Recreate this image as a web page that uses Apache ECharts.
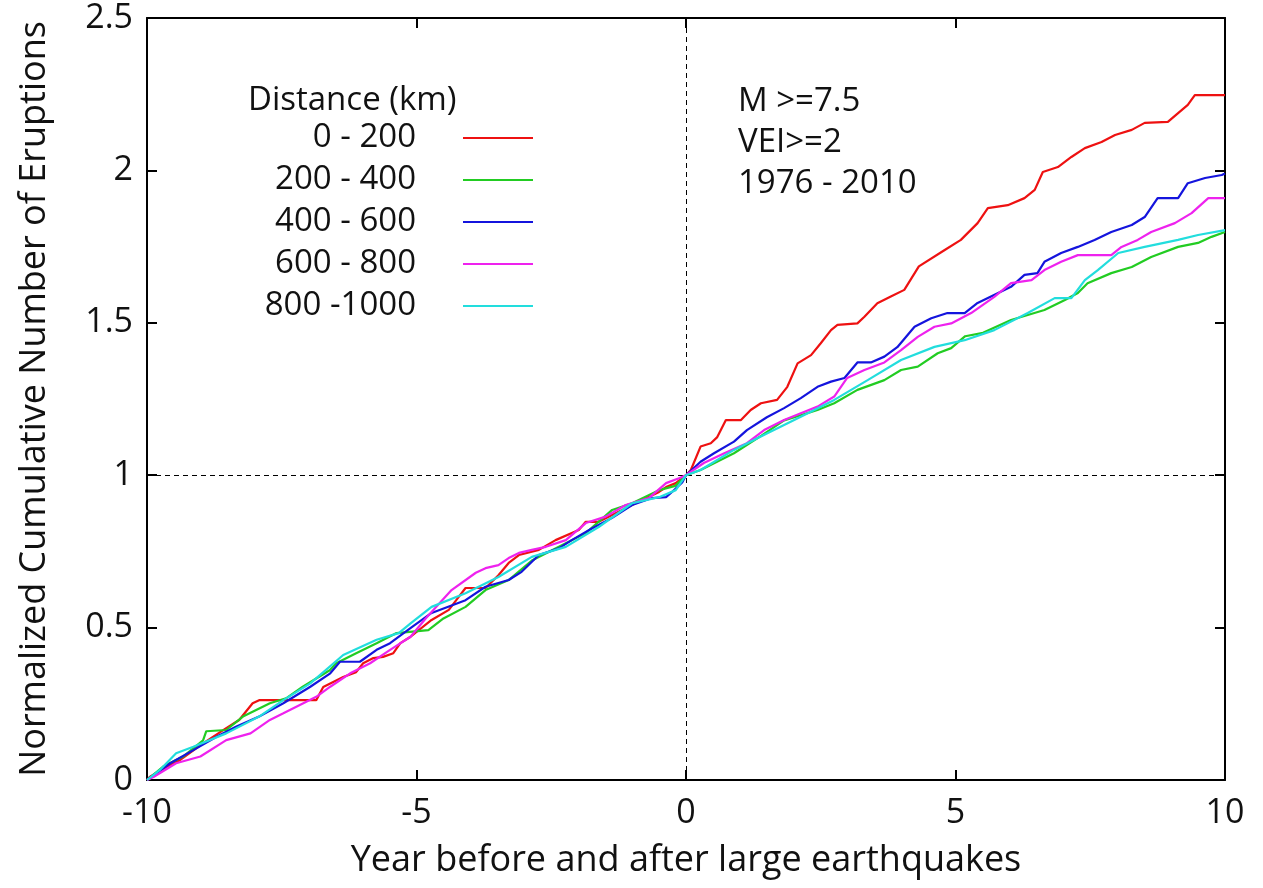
<!DOCTYPE html>
<html>
<head>
<meta charset="utf-8">
<script src="https://cdn.jsdelivr.net/npm/echarts@6/dist/echarts.min.js"></script>
<style>
html,body{margin:0;padding:0;background:#fff;}
#chart{width:1263px;height:888px;}
</style>
</head>
<body>
<div id="chart"></div>
<script>
// ---- data ----
const seriesNames = ['0 - 200', '200 - 400', '400 - 600', '600 - 800', '800 -1000'];
const xTicks = [-10, -5, 0, 5, 10];
const yTicks = [0, 0.5, 1, 1.5, 2, 2.5];

const dist0_200 = [
  [-10,0],[-9.95,0.01],[-9.52,0.055],[-9.39,0.065],[-8.96,0.12],[-8.53,0.17],[-8.29,0.197],[-8.04,0.252],
  [-7.92,0.262],[-6.86,0.262],[-6.73,0.305],[-6.36,0.338],[-6.12,0.354],[-5.99,0.383],[-5.8,0.40],
  [-5.62,0.404],[-5.43,0.416],[-5.3,0.449],[-5.11,0.47],[-4.72,0.525],[-4.4,0.558],[-4.22,0.60],
  [-4.09,0.63],[-3.72,0.63],[-3.48,0.672],[-3.29,0.712],[-3.1,0.738],[-2.73,0.755],[-2.42,0.787],
  [-1.99,0.82],[-1.86,0.847],[-1.62,0.847],[-1.0,0.902],[-0.5,0.945],[-0.37,0.961],[-0.19,0.974],[0,1],
  [0.09,1.017],[0.27,1.094],[0.46,1.105],[0.58,1.125],[0.74,1.181],[1.02,1.181],[1.2,1.214],[1.39,1.236],
  [1.69,1.247],[1.88,1.29],[2.07,1.367],[2.32,1.394],[2.5,1.433],[2.69,1.476],[2.81,1.493],[3.18,1.498],
  [3.31,1.52],[3.55,1.564],[3.8,1.586],[4.05,1.608],[4.32,1.685],[4.8,1.739],[5.1,1.772],[5.41,1.827],
  [5.6,1.876],[5.97,1.886],[6.28,1.909],[6.47,1.936],[6.62,1.995],[6.9,2.011],[7.15,2.044],[7.4,2.073],
  [7.71,2.093],[7.96,2.116],[8.27,2.133],[8.51,2.156],[8.94,2.159],[9.13,2.188],[9.31,2.215],[9.44,2.247],
  [10,2.247]
];
const dist200_400 = [
  [-10,0],[-9.7,0.044],[-9.33,0.077],[-8.96,0.13],[-8.9,0.16],[-8.53,0.164],[-8.22,0.208],[-7.72,0.252],
  [-7.42,0.268],[-7.11,0.306],[-6.61,0.36],[-6.49,0.383],[-6.12,0.416],[-5.74,0.449],[-5.37,0.482],
  [-4.78,0.492],[-4.5,0.53],[-4.09,0.568],[-3.72,0.623],[-3.29,0.656],[-2.86,0.72],[-2.23,0.777],
  [-1.86,0.81],[-1.37,0.886],[-1.0,0.908],[-0.5,0.951],[-0.2,0.965],[0,1],
  [0.27,1.017],[0.89,1.072],[1.4,1.13],[1.82,1.18],[2.44,1.214],[2.75,1.236],[3.18,1.28],[3.68,1.312],
  [3.99,1.345],[4.3,1.356],[4.67,1.40],[4.92,1.417],[5.18,1.456],[5.51,1.467],[6.03,1.509],[6.65,1.542],
  [7.03,1.575],[7.27,1.598],[7.45,1.63],[7.89,1.663],[8.27,1.683],[8.63,1.716],[9.13,1.749],[9.5,1.762],
  [9.75,1.782],[10,1.798]
];
const dist400_600 = [
  [-10,0],[-9.57,0.055],[-9.14,0.098],[-8.71,0.142],[-8.35,0.175],[-7.92,0.208],[-7.47,0.252],[-6.97,0.306],
  [-6.6,0.35],[-6.42,0.388],[-6.05,0.388],[-5.74,0.427],[-5.49,0.449],[-5.1,0.50],[-4.72,0.548],
  [-4.09,0.59],[-3.72,0.634],[-3.29,0.656],[-3.05,0.683],[-2.73,0.738],[-2.36,0.76],[-2.12,0.787],
  [-1.74,0.826],[-1.37,0.86],[-1.0,0.902],[-0.63,0.925],[-0.37,0.928],[-0.26,0.945],[-0.07,0.976],[0,1],
  [0.27,1.044],[0.52,1.072],[0.89,1.11],[1.13,1.148],[1.5,1.19],[1.82,1.22],[2.13,1.253],[2.44,1.29],
  [2.69,1.307],[2.94,1.319],[3.18,1.37],[3.43,1.37],[3.68,1.389],[3.92,1.42],[4.24,1.487],[4.55,1.515],
  [4.85,1.532],[5.17,1.532],[5.41,1.565],[6.03,1.618],[6.28,1.657],[6.52,1.663],[6.65,1.70],[6.96,1.729],
  [7.27,1.749],[7.58,1.772],[7.89,1.798],[8.27,1.821],[8.51,1.847],[8.75,1.909],[9.13,1.909],[9.31,1.958],
  [9.63,1.975],[9.94,1.985],[10,1.99]
];
const dist600_800 = [
  [-10,0],[-9.88,0.01],[-9.46,0.055],[-9.01,0.077],[-8.53,0.131],[-8.08,0.153],[-7.72,0.197],[-7.47,0.219],
  [-7.1,0.252],[-6.86,0.273],[-6.6,0.306],[-6.23,0.35],[-5.86,0.383],[-5.49,0.427],[-5.11,0.47],
  [-4.83,0.53],[-4.35,0.623],[-3.9,0.68],[-3.72,0.695],[-3.48,0.705],[-3.29,0.728],[-3.1,0.745],
  [-2.86,0.755],[-2.6,0.765],[-2.23,0.787],[-1.86,0.843],[-1.49,0.864],[-1.12,0.902],[-0.69,0.925],
  [-0.37,0.974],[-0.13,0.99],[0,1],
  [0.33,1.04],[0.71,1.072],[1.13,1.105],[1.45,1.148],[1.82,1.181],[2.13,1.203],[2.44,1.225],[2.75,1.258],
  [2.99,1.319],[3.31,1.345],[3.68,1.37],[3.99,1.41],[4.3,1.454],[4.61,1.487],[4.92,1.498],[5.29,1.532],
  [5.72,1.585],[6.03,1.63],[6.41,1.64],[6.65,1.673],[6.96,1.70],[7.27,1.722],[7.89,1.722],[8.08,1.749],
  [8.38,1.772],[8.63,1.798],[9.07,1.827],[9.38,1.86],[9.69,1.909],[10,1.909]
];
const dist800_1000 = [
  [-10,0],[-9.76,0.033],[-9.46,0.088],[-9.14,0.109],[-8.53,0.153],[-7.92,0.208],[-7.47,0.262],
  [-6.97,0.317],[-6.36,0.41],[-5.74,0.46],[-5.33,0.482],[-5.11,0.514],[-4.72,0.568],[-4.09,0.613],
  [-3.48,0.666],[-2.86,0.732],[-2.23,0.765],[-1.62,0.83],[-1.0,0.908],[-0.5,0.928],[-0.19,0.951],[0,1],
  [0.27,1.017],[0.89,1.083],[1.5,1.137],[2.13,1.192],[2.75,1.247],[3.37,1.312],[3.99,1.378],[4.61,1.421],
  [5.17,1.443],[5.72,1.476],[6.34,1.532],[6.84,1.581],[7.15,1.581],[7.4,1.64],[7.64,1.673],[8.02,1.729],
  [8.51,1.749],[9.13,1.772],[9.5,1.788],[10,1.804]
];
const seriesData = [dist0_200, dist200_400, dist400_600, dist600_800, dist800_1000];
const seriesColors = ['#ee1111', '#22cc22', '#1414dd', '#ee22ee', '#22dddd'];

const FONT = "'Open Sans', 'DejaVu Sans', sans-serif";
const chart = echarts.init(document.getElementById('chart'), null, {renderer: 'canvas'});

const series = seriesNames.map((name, i) => ({
  name: name,
  type: 'line',
  data: seriesData[i],
  showSymbol: false,
  symbol: 'none',
  smooth: false,
  animation: false,
  lineStyle: {color: seriesColors[i], width: 2.2},
  itemStyle: {color: seriesColors[i]},
  z: 3 + i
}));
series[0].markLine = {
  silent: true,
  symbol: ['none', 'none'],
  label: {show: false},
  lineStyle: {color: '#000', width: 1, type: [5, 4]},
  data: [{xAxis: 0}, {yAxis: 1}],
  animation: false,
  z: 1
};

const axisCommonX = {
  type: 'value', min: xTicks[0], max: xTicks[xTicks.length - 1], interval: 5,
  splitLine: {show: false},
  axisLine: {show: true, onZero: false, lineStyle: {color: '#000', width: 2}},
  axisTick: {show: true, inside: true, length: 10, lineStyle: {color: '#000', width: 2}}
};
const axisCommonY = {
  type: 'value', min: yTicks[0], max: yTicks[yTicks.length - 1], interval: 0.5,
  splitLine: {show: false},
  axisLine: {show: true, onZero: false, lineStyle: {color: '#000', width: 2}},
  axisTick: {show: true, inside: true, length: 10, lineStyle: {color: '#000', width: 2}}
};

chart.setOption({
  backgroundColor: '#fff',
  animation: false,
  textStyle: {fontFamily: FONT},
  grid: {left: 147, right: 38, top: 18, bottom: 108},
  title: [
    {text: 'Distance (km)', left: 248, top: 84, padding: 0,
     textStyle: {fontFamily: FONT, fontSize: 33, fontWeight: 'normal', color: '#111'}},
    {text: 'M >=7.5\nVEI>=2\n1976 - 2010', left: 738, top: 81, padding: 0,
     textStyle: {fontFamily: FONT, fontSize: 33, fontWeight: 'normal', color: '#111', lineHeight: 41}}
  ],
  legend: {
    data: seriesNames,
    orient: 'vertical',
    align: 'right',
    right: 730,
    top: 117,
    padding: 0,
    itemGap: 0,
    itemWidth: 70,
    itemHeight: 2,
    icon: 'rect',
    selectedMode: false,
    textStyle: {fontFamily: FONT, fontSize: 33, color: '#111', lineHeight: 42, padding: [0, 42, 0, 0]}
  },
  xAxis: [
    Object.assign({}, axisCommonX, {
      position: 'bottom',
      name: 'Year before and after large earthquakes',
      nameLocation: 'middle', nameGap: 63,
      nameTextStyle: {fontFamily: FONT, fontSize: 36, color: '#111'},
      axisLabel: {show: true, margin: 16, fontFamily: FONT, fontSize: 34, color: '#111'}
    }),
    Object.assign({}, axisCommonX, {position: 'top', axisLabel: {show: false}})
  ],
  yAxis: [
    Object.assign({}, axisCommonY, {
      position: 'left',
      name: 'Normalized Cumulative Number of Eruptions',
      nameLocation: 'middle', nameGap: 94,
      nameTextStyle: {fontFamily: FONT, fontSize: 36, color: '#111'},
      axisLabel: {show: true, margin: 14, fontFamily: FONT, fontSize: 34, color: '#111',
                  formatter: v => String(v)}
    }),
    Object.assign({}, axisCommonY, {position: 'right', axisLabel: {show: false}})
  ],
  series: series
});
</script>
</body>
</html>
